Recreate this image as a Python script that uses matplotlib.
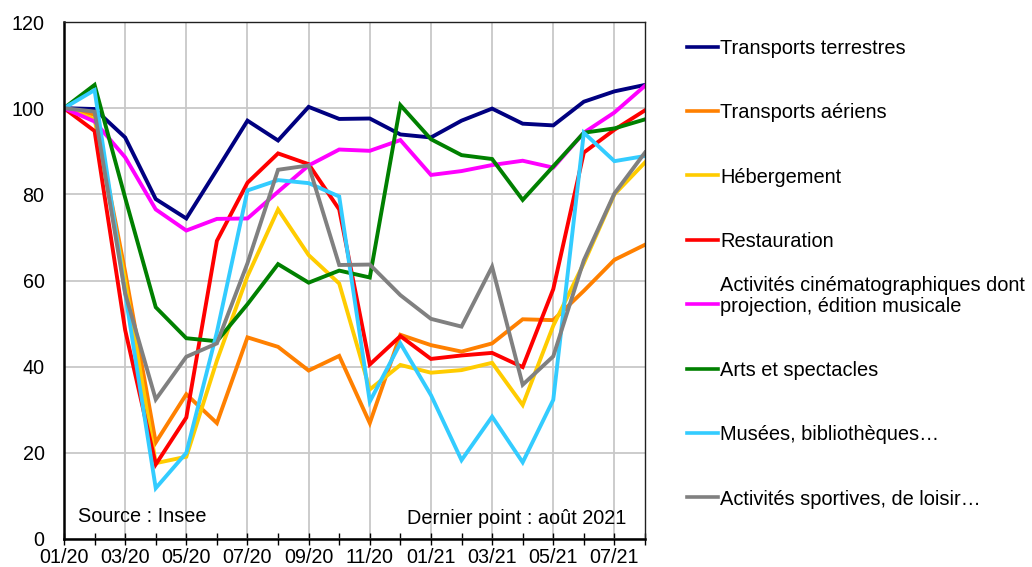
import matplotlib.pyplot as plt
from matplotlib.lines import Line2D

plt.rcParams['font.family'] = ['Liberation Sans', 'DejaVu Sans']

months = list(range(20))
tick_labels = ['01/20', '03/20', '05/20', '07/20', '09/20', '11/20',
               '01/21', '03/21', '05/21', '07/21']

terrestres = [100, 99.8, 93.2, 78.9, 74.4, 85.7, 97.1, 92.5, 100.3, 97.5,
              97.6, 93.9, 93.2, 97.1, 99.9, 96.4, 96.0, 101.5, 103.9, 105.4]
aeriens = [100, 98.5, 62, 22.4, 33.6, 26.9, 46.8, 44.6, 39.1, 42.5,
           26.9, 47.4, 45.0, 43.5, 45.4, 51.0, 50.8, 57.6, 64.8, 68.3]
hebergement = [100, 97.5, 60, 17.6, 19.1, 41.4, 61, 76.5, 65.9, 59.3,
               34.7, 40.4, 38.6, 39.2, 40.9, 31.1, 49.5, 64, 80, 87.4]
restauration = [100, 94.7, 48.5, 17.3, 28.2, 69.2, 82.7, 89.5, 87.0, 76.5,
                40.5, 47.1, 41.8, 42.6, 43.2, 39.9, 58.0, 89.7, 95.0, 99.5]
cinema = [100, 96.9, 88.6, 76.5, 71.6, 74.3, 74.4, 80.6, 86.7, 90.4,
          90.1, 92.6, 84.5, 85.4, 86.8, 87.8, 86.2, 94.3, 99.0, 105.2]
arts = [100, 105.4, 79.2, 53.8, 46.6, 45.9, 54.5, 63.8, 59.5, 62.3,
        60.7, 100.7, 92.8, 89.1, 88.2, 78.7, 86.5, 94.3, 95.3, 97.4]
musees = [100, 104.2, 57, 11.8, 20.0, 48, 80.9, 83.3, 82.6, 79.5,
          31.9, 45.4, 33.4, 18.3, 28.4, 17.8, 32.3, 94.3, 87.7, 88.9]
sportives = [100, 99.2, 57, 32.4, 42.3, 45.4, 64, 85.7, 86.7, 63.6,
             63.7, 56.6, 51.1, 49.3, 63.2, 35.8, 42.4, 64.7, 80.2, 89.7]

series = [
    ('Transports terrestres', terrestres, '#000080'),
    ('Transports aériens', aeriens, '#FF8000'),
    ('Hébergement', hebergement, '#FFCC00'),
    ('Restauration', restauration, '#FF0000'),
    ('Activités cinématographiques dont\nprojection, édition musicale', cinema, '#FF00FF'),
    ('Arts et spectacles', arts, '#008000'),
    ('Musées, bibliothèques…', musees, '#33CCFF'),
    ('Activités sportives, de loisir…', sportives, '#808080'),
]

W, H = 1032, 567
fig = plt.figure(figsize=(W / 100, H / 100), dpi=100)
ax = fig.add_axes([64 / W, 1 - 539 / H, (645 - 64) / W, (539 - 22) / H])

for name, vals, col in series:
    ax.plot(months, vals, color=col, lw=2.8, solid_joinstyle='miter')

ax.set_xlim(0, 19)
ax.set_ylim(0, 120)
ax.set_yticks(range(0, 121, 20))
ax.set_xticks(months, minor=True)
ax.set_xticks(months[::2])
ax.set_xticklabels(tick_labels)
ax.tick_params(axis='y', length=0, pad=14, labelsize=14.2)
ax.tick_params(axis='x', which='both', direction='inout', length=8, width=1,
               labelsize=14.2, pad=2.5)
ax.grid(True, which='major', color='#c8c8c8', lw=1.3)
ax.set_axisbelow(True)
for s in ['left', 'bottom']:
    ax.spines[s].set_linewidth(1.8)
for s in ['top', 'right']:
    ax.spines[s].set_linewidth(1.0)
    ax.spines[s].set_color('#202020')

ax.text(0.45, 4, 'Source : Insee', fontsize=14.3, va='baseline')
ax.text(18.4, 3.5, 'Dernier point : août 2021', fontsize=14.3, va='baseline', ha='right')

# legend drawn by hand, Excel style
for i, (name, vals, col) in enumerate(series):
    yc = 46.5 + 64.4 * i
    fig.add_artist(Line2D([687 / W, 718 / W], [1 - yc / H, 1 - yc / H],
                          color=col, lw=2.6, transform=fig.transFigure))
    fig.text(720 / W, 1 - (yc + 7.5) / H, name, fontsize=14.4, va='baseline',
             linespacing=1.12)

fig.savefig('out.png', dpi=100)
